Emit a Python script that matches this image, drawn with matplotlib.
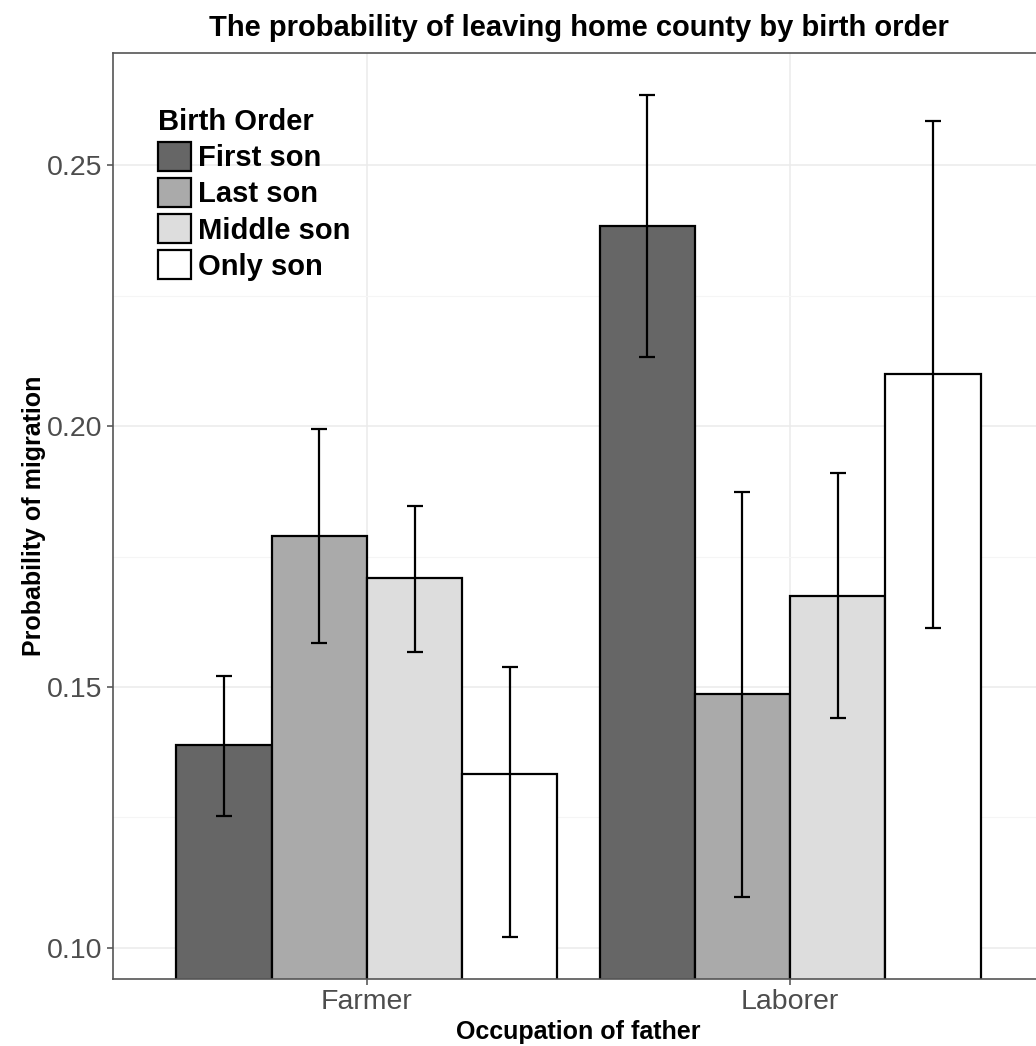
import matplotlib
matplotlib.use("Agg")
import matplotlib.pyplot as plt
import numpy as np
from matplotlib.patches import Patch

plt.rcParams['font.family'] = ['Liberation Sans', 'DejaVu Sans']

# data
occupations = ["Farmer", "Laborer"]
birth_order = ["First son", "Last son", "Middle son", "Only son"]
fills = ["#666666", "#AAAAAA", "#DDDDDD", "#FFFFFF"]

prob = {
    "First son":  [0.1389, 0.2383],
    "Last son":   [0.1789, 0.1487],
    "Middle son": [0.1709, 0.1674],
    "Only son":   [0.1333, 0.2100],
}
ci_low = {
    "First son":  [0.1253, 0.2132],
    "Last son":   [0.1584, 0.1098],
    "Middle son": [0.1567, 0.1441],
    "Only son":   [0.1021, 0.1613],
}
ci_high = {
    "First son":  [0.1521, 0.2634],
    "Last son":   [0.1994, 0.1874],
    "Middle son": [0.1847, 0.1910],
    "Only son":   [0.1538, 0.2584],
}

fig = plt.figure(figsize=(10.36, 10.46), dpi=100)
# right edge of the panel runs a bit past the image, as in the original
ax = fig.add_axes([113 / 1036, 67 / 1046, 931 / 1036, 926 / 1046])

x = np.arange(len(occupations))
width = 0.225
for i, bo in enumerate(birth_order):
    pos = x + (i - 1.5) * width
    vals = np.array(prob[bo])
    lo = vals - np.array(ci_low[bo])
    hi = np.array(ci_high[bo]) - vals
    ax.bar(pos, vals, width=width, color=fills[i], edgecolor="black",
           linewidth=1.6, zorder=2)
    ax.errorbar(pos, vals, yerr=[lo, hi], fmt="none", ecolor="black",
                elinewidth=1.6, capsize=5.5, capthick=1.6, zorder=3)

ax.set_xlim(-0.6, 1.6)
ax.set_ylim(0.09406, 0.27146)
ax.set_xticks(x)
ax.set_xticklabels(occupations)
ax.set_yticks([0.10, 0.15, 0.20, 0.25])
ax.set_yticklabels(["0.10", "0.15", "0.20", "0.25"])
ax.set_yticks([0.125, 0.175, 0.225], minor=True)

ax.grid(True, which="major", color="#EBEBEB", linewidth=1.1, zorder=0)
ax.grid(True, which="minor", axis="y", color="#F5F5F5", linewidth=0.8, zorder=0)
ax.set_axisbelow(True)

for s in ax.spines.values():
    s.set_color("#555555")
    s.set_linewidth(1.2)

ax.tick_params(axis="both", which="major", colors="#4D4D4D", labelsize=20.5,
               length=4, width=1.1, labelcolor="#4D4D4D")
ax.tick_params(axis="y", which="minor", length=0)

ax.set_xlabel("Occupation of father", fontsize=18, fontweight="bold", labelpad=3.5)
ax.set_ylabel("Probability of migration", fontsize=18, fontweight="bold", labelpad=0.5)
ax.set_title("The probability of leaving home county by birth order",
             fontsize=21, fontweight="bold", pad=12)

handles = [Patch(facecolor=f, edgecolor="black", linewidth=1.6) for f in fills]
leg = ax.legend(handles, birth_order, title="Birth Order", loc="upper left",
                bbox_to_anchor=(0.026, 0.963), frameon=False,
                prop={"size": 21, "weight": "bold"},
                title_fontproperties={"size": 21, "weight": "bold"},
                handlelength=1.16, handleheight=1.16, labelspacing=0.2,
                handletextpad=0.22, borderaxespad=0.3)
leg._legend_box.align = "left"

fig.savefig("out.png", dpi=100)
